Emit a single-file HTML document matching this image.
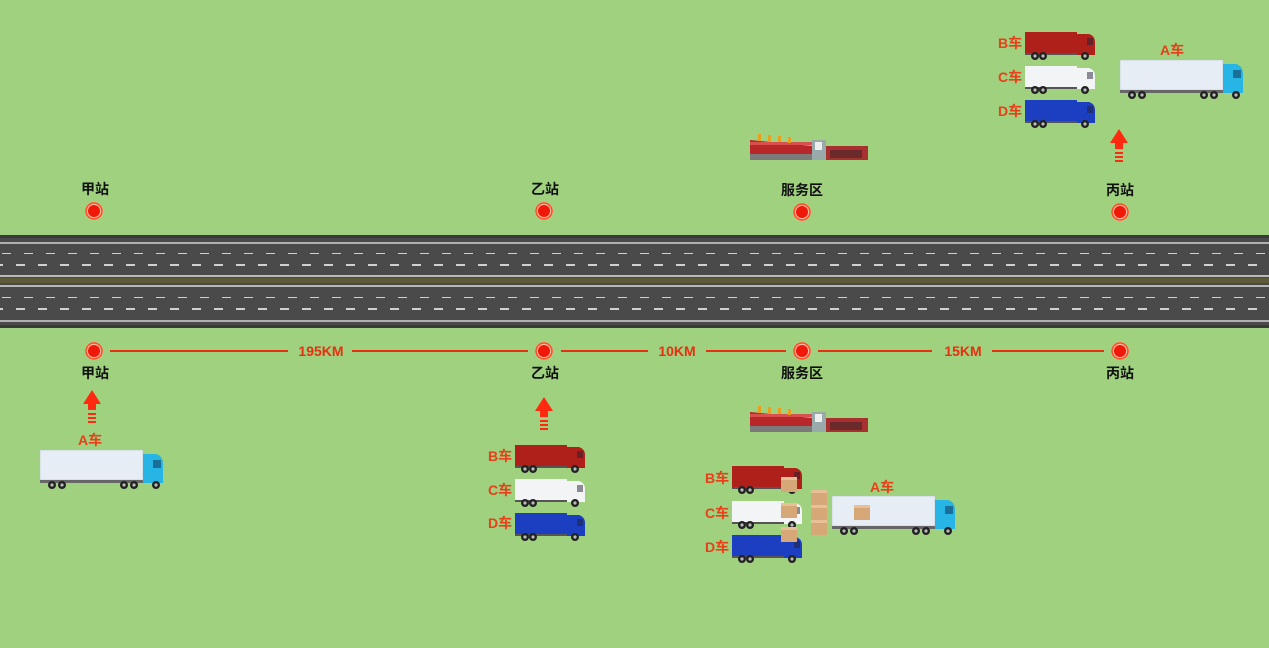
<!DOCTYPE html>
<html><head><meta charset="utf-8"><style>
html,body{margin:0;padding:0;background:#9fd17e;}
svg{display:block}
text{font-family:"Liberation Sans","Noto Sans CJK SC",sans-serif;font-weight:bold}
</style></head><body>
<svg width="1269" height="648" viewBox="0 0 1269 648" xmlns="http://www.w3.org/2000/svg">
<defs>
<pattern id="dashA" x="0" y="0" width="22" height="4" patternUnits="userSpaceOnUse"><rect x="2" y="0" width="9" height="2" fill="#d0d0d0"/></pattern>
<g id="wh"><circle r="4" fill="#222"/><circle r="1.6" fill="#bbb"/></g>
<symbol id="small" viewBox="0 0 70 28"><rect x="0" y="0" width="52" height="21" /><rect x="0" y="21" width="60" height="2" fill="#555"/><path d="M52 2 H64 Q70 4 70 10 V23 H52 Z"/><rect x="62" y="6" width="6" height="7" fill="#223" opacity=".5"/><use href="#wh" x="10" y="24"/><use href="#wh" x="18" y="24"/><use href="#wh" x="60" y="24"/></symbol>
<g id="longT"><rect x="0" y="0" width="103" height="30" fill="#e6edf5" stroke="#b8c2cc" stroke-width=".6"/><rect x="0" y="30" width="112" height="3" fill="#666"/><path d="M103 4 H116 Q123 6 123 14 V33 H103 Z" fill="#27b5e5"/><rect x="113" y="10" width="8" height="8" fill="#1a6f99"/><use href="#wh" x="12" y="35"/><use href="#wh" x="22" y="35"/><use href="#wh" x="84" y="35"/><use href="#wh" x="94" y="35"/><use href="#wh" x="116" y="35"/></g>
<g id="bld"><path d="M0 8 L62 14 V24 H0 Z" fill="#b8262a"/><rect x="0" y="10" width="62" height="3" fill="#d85050"/><rect x="0" y="22" width="62" height="6" fill="#7a7a7a"/><rect x="62" y="8" width="14" height="20" fill="#9aa"/><rect x="65" y="10" width="7" height="8" fill="#eee"/><rect x="76" y="14" width="42" height="14" fill="#a83030"/><rect x="80" y="18" width="32" height="8" fill="#6a2a2a"/><g fill="#e8a020"><rect x="8" y="2" width="3" height="7"/><rect x="18" y="3" width="3" height="7"/><rect x="28" y="4" width="3" height="6"/><rect x="38" y="5" width="3" height="6"/></g></g>
<g id="arrow"><path d="M0 -14 L9 0 H4 V6 H-4 V0 H-9 Z" fill="#ff2a10"/><rect x="-4" y="9" width="8" height="2" fill="#ff2a10"/><rect x="-4" y="13" width="8" height="2" fill="#ff2a10"/><rect x="-4" y="17" width="8" height="2" fill="#ff2a10"/></g>
<g id="stn"><circle r="9" fill="#f6b8a0"/><circle r="8" fill="none" stroke="#ff4a20" stroke-width="1.5"/><circle r="6" fill="#f01808"/></g>
<g id="box"><rect x="0" y="0" width="16" height="15" fill="#d6a878"/><rect x="0" y="0" width="16" height="3" fill="#e8c098"/></g>
</defs>

<rect x="0" y="235" width="1269" height="93" fill="#4a4a4a"/>
<rect x="0" y="235" width="1269" height="3" fill="#3a3a3a"/>
<rect x="0" y="242" width="1269" height="2" fill="#b0b0b0"/>
<rect x="0" y="253" width="1269" height="3" fill="url(#dashA)"/>
<rect x="0" y="264" width="1269" height="3" fill="url(#dashA)" transform="translate(-8 0)"/>
<rect x="0" y="275" width="1269" height="2" fill="#b8b8b8"/>
<rect x="0" y="278" width="1269" height="5" fill="#5d5a3a"/>
<rect x="0" y="285" width="1269" height="2" fill="#b8b8b8"/>
<rect x="0" y="297" width="1269" height="3" fill="url(#dashA)"/>
<rect x="0" y="308" width="1269" height="3" fill="url(#dashA)" transform="translate(-8 0)"/>
<rect x="0" y="320" width="1269" height="2" fill="#b0b0b0"/>
<rect x="0" y="325" width="1269" height="3" fill="#3a3a3a"/>

<g stroke="#e83010" stroke-width="2">
<line x1="110" y1="351" x2="288" y2="351"/><line x1="352" y1="351" x2="528" y2="351"/>
<line x1="561" y1="351" x2="648" y2="351"/><line x1="706" y1="351" x2="786" y2="351"/>
<line x1="818" y1="351" x2="932" y2="351"/><line x1="992" y1="351" x2="1104" y2="351"/>
</g>
<g fill="#e83010" font-size="14" text-anchor="middle">
<text x="321" y="356">195KM</text><text x="677" y="356">10KM</text><text x="963" y="356">15KM</text>
</g>

<use href="#stn" x="94" y="211"/><use href="#stn" x="544" y="211"/><use href="#stn" x="802" y="212"/><use href="#stn" x="1120" y="212"/>
<use href="#stn" x="94" y="351"/><use href="#stn" x="544" y="351"/><use href="#stn" x="802" y="351"/><use href="#stn" x="1120" y="351"/>
<g fill="#111" font-size="14" text-anchor="middle">
<text x="95" y="194">甲站</text><text x="545" y="194">乙站</text><text x="802" y="195">服务区</text><text x="1120" y="195">丙站</text>
<text x="95" y="378">甲站</text><text x="545" y="378">乙站</text><text x="802" y="378">服务区</text><text x="1120" y="378">丙站</text>
</g>

<use href="#arrow" x="92" y="404"/><use href="#arrow" x="544" y="411"/><use href="#arrow" x="1119" y="143"/>

<use href="#bld" x="750" y="132"/><use href="#bld" x="750" y="404"/>

<g font-size="14" fill="#e8401a">
<text x="78" y="445">A车</text>
<use href="#longT" x="40" y="450"/>
<text x="488" y="461">B车</text><svg x="515" y="445" width="70" height="28" viewBox="0 0 70 28" fill="#b0201a"><use href="#small"/></svg>
<text x="488" y="495">C车</text><svg x="515" y="479" width="70" height="28" viewBox="0 0 70 28" fill="#f2f4f6"><use href="#small"/></svg>
<text x="488" y="528">D车</text><svg x="515" y="513" width="70" height="28" viewBox="0 0 70 28" fill="#1c3ec0"><use href="#small"/></svg>
<text x="705" y="483">B车</text><svg x="732" y="466" width="70" height="28" viewBox="0 0 70 28" fill="#b0201a"><use href="#small"/></svg>
<text x="705" y="518">C车</text><svg x="732" y="501" width="70" height="28" viewBox="0 0 70 28" fill="#f2f4f6"><use href="#small"/></svg>
<text x="705" y="552">D车</text><svg x="732" y="535" width="70" height="28" viewBox="0 0 70 28" fill="#1c3ec0"><use href="#small"/></svg>
<text x="870" y="492">A车</text>
<use href="#longT" x="832" y="496"/>
<use href="#box" x="781" y="477"/><use href="#box" x="781" y="503"/><use href="#box" x="781" y="527"/>
<use href="#box" x="811" y="490"/><use href="#box" x="811" y="505"/><use href="#box" x="811" y="520"/>
<use href="#box" x="854" y="505"/>
<text x="998" y="48">B车</text><svg x="1025" y="32" width="70" height="28" viewBox="0 0 70 28" fill="#b0201a"><use href="#small"/></svg>
<text x="998" y="82">C车</text><svg x="1025" y="66" width="70" height="28" viewBox="0 0 70 28" fill="#f2f4f6"><use href="#small"/></svg>
<text x="998" y="116">D车</text><svg x="1025" y="100" width="70" height="28" viewBox="0 0 70 28" fill="#1c3ec0"><use href="#small"/></svg>
<text x="1160" y="55">A车</text>
<use href="#longT" x="1120" y="60"/>
</g>
</svg>
</body></html>
